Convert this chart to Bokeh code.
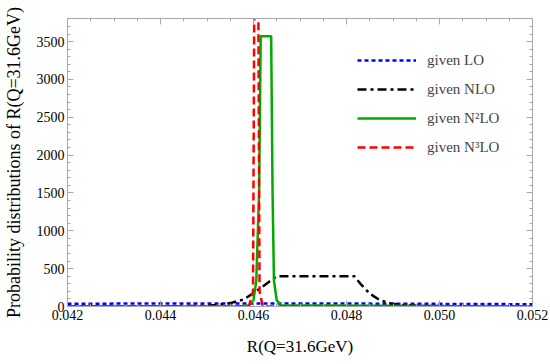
from bokeh.plotting import figure
from bokeh.models import (Range1d, LinearAxis, Legend, LegendItem, FixedTicker,
                          CustomJSTickFormatter)
from bokeh.embed import file_html
from bokeh.resources import INLINE

# ---- data ----
lo_x = [0.042, 0.044, 0.046, 0.048, 0.050, 0.052]
lo_y = [37, 39, 40, 39, 35, 30]

nlo_x = [0.042, 0.044, 0.045, 0.0452, 0.0455, 0.0458, 0.0461, 0.0463, 0.0465,
         0.04817, 0.0483, 0.0485, 0.0487, 0.0489, 0.0492, 0.0496, 0.0505, 0.052]
nlo_y = [0, 2, 10, 20, 45, 95, 220, 310, 400,
         400, 300, 170, 90, 45, 20, 8, 2, 0]

n2lo_x = [0.042, 0.0457, 0.0459, 0.0460, 0.04606, 0.04612, 0.046155, 0.04638,
          0.04641, 0.04644, 0.0465, 0.0466, 0.052]
n2lo_y = [0, 0, 15, 80, 340, 1500, 3570, 3570, 1500, 340, 80, 15, 0]

n3lo_x = [0.042, 0.0459, 0.04599, 0.04602, 0.04606, 0.0461, 0.04613, 0.0462, 0.052]
n3lo_y = [0, 0, 200, 4500, 9000, 4500, 200, 0, 0]

x_ticks = [0.042, 0.044, 0.046, 0.048, 0.050, 0.052]
x_minor = [0.042 + 0.0005 * i for i in range(21)]
y_ticks = [0, 500, 1000, 1500, 2000, 2500, 3000, 3500]
y_minor = [100 * i for i in range(39)]
legend_labels = ["given LO", "given NLO", "given N\u00b2LO", "given N\u00b3LO"]
x_title = "R(Q=31.6GeV)"
y_title = "Probability distributions of R(Q=31.6GeV)"

SERIF = "Liberation Serif"
FRAME = "#a8a8a8"

p = figure(width=548, height=364, output_backend="svg", toolbar_location=None,
           x_range=Range1d(0.042, 0.052), y_range=Range1d(0, 3805),
           min_border_left=66, min_border_right=16, min_border_top=18,
           min_border_bottom=58, background_fill_color="white",
           border_fill_color="white")
p.grid.visible = False
p.outline_line_color = FRAME

p.xaxis.ticker = FixedTicker(ticks=x_ticks, minor_ticks=x_minor)
p.yaxis.ticker = FixedTicker(ticks=y_ticks, minor_ticks=y_minor)
p.xaxis.formatter = CustomJSTickFormatter(code="return tick.toFixed(3);")
p.xaxis.axis_label = x_title
p.yaxis.axis_label = y_title

for ax in list(p.xaxis) + list(p.yaxis):
    ax.axis_line_color = FRAME
    ax.major_tick_line_color = FRAME
    ax.minor_tick_line_color = FRAME
    ax.major_tick_in = 6
    ax.major_tick_out = 0
    ax.minor_tick_in = 3
    ax.minor_tick_out = 0
    ax.major_label_text_font = SERIF
    ax.major_label_text_font_size = "14px"
    ax.major_label_text_color = "black"
    ax.major_label_standoff = 3
    ax.axis_label_text_font = SERIF
    ax.axis_label_text_font_style = "normal"
    ax.axis_label_text_color = "black"

p.xaxis.axis_label_text_font_size = "17px"
p.xaxis.axis_label_standoff = 14
p.yaxis.axis_label_text_font_size = "18px"
p.yaxis.axis_label_standoff = 10

# top & right frame axes with ticks, no labels
top = LinearAxis(ticker=FixedTicker(ticks=x_ticks, minor_ticks=x_minor))
right = LinearAxis(ticker=FixedTicker(ticks=y_ticks, minor_ticks=y_minor))
for ax in (top, right):
    ax.axis_line_color = FRAME
    ax.major_tick_line_color = FRAME
    ax.minor_tick_line_color = FRAME
    ax.major_tick_in = 6
    ax.major_tick_out = 0
    ax.minor_tick_in = 3
    ax.minor_tick_out = 0
    ax.major_label_text_font_size = "0px"
    ax.major_label_text_color = None
p.add_layout(top, "above")
p.add_layout(right, "right")

r_lo = p.line(lo_x, lo_y, line_color="#0000ff", line_width=2.5, line_dash="4 3")
r_nlo = p.line(nlo_x, nlo_y, line_color="black", line_width=2.5, line_dash="9 4 3 4")
r_n2 = p.line(n2lo_x, n2lo_y, line_color="#00aa00", line_width=2.5)
r_n3 = p.line(n3lo_x, n3lo_y, line_color="#ff0000", line_width=2.5, line_dash="8 4")

legend = Legend(items=[LegendItem(label=l, renderers=[r]) for l, r in
                       zip(legend_labels, [r_lo, r_nlo, r_n2, r_n3])],
                location=(290, 149), orientation="vertical",
                glyph_width=59, glyph_height=20, label_height=20, spacing=9,
                label_standoff=11, padding=0, margin=0,
                border_line_color=None, background_fill_alpha=0,
                label_text_font=SERIF, label_text_font_size="15px",
                label_text_baseline="middle")
p.add_layout(legend, "center")

open("out.html", "w").write(file_html(p, INLINE))
